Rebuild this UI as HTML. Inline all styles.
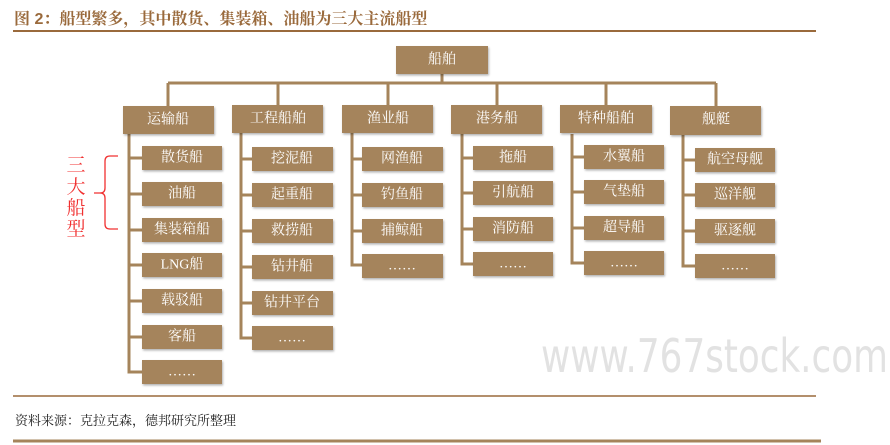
<!DOCTYPE html>
<html><head><meta charset="utf-8"><style>
html,body{margin:0;padding:0;background:#fff;}
svg{display:block;}
.b{fill:#a5845b;filter:url(#sh);}
.t{fill:#fff;font-family:"Liberation Serif","Noto Serif CJK SC","Noto Sans CJK SC",serif;font-size:14px;text-anchor:middle;dominant-baseline:central;}
.l{stroke:#a5845b;stroke-width:3;fill:none;}
</style></head><body>
<svg width="890" height="445" viewBox="0 0 890 445" xmlns="http://www.w3.org/2000/svg">
<defs><filter id="sh" x="-10%" y="-10%" width="130%" height="140%"><feDropShadow dx="1" dy="1.5" stdDeviation="1" flood-color="#000" flood-opacity="0.3"/></filter></defs>
<text x="14" y="24" font-family="'Liberation Sans','Noto Serif CJK SC',sans-serif" font-size="16" font-weight="bold" fill="#9a6a3c">图 2：船型繁多，其中散货、集装箱、油船为三大主流船型</text>
<line x1="13" y1="31" x2="816" y2="31" stroke="#9a6a3c" stroke-width="2"/>
<text x="541" y="372" font-family="'DejaVu Sans',sans-serif" font-size="46" fill="#e2e2e2" textLength="347" lengthAdjust="spacingAndGlyphs">www.767stock.com</text>
<path class="l" d="M442 74V83M168 83H716M168 83V106M278 83V105M388 83V105M497 83V105M606 83V105M716 83V106"/>
<path class="l" d="M129 134V372H142M129 158H142M129 194H142M129 230H142M129 265H142M129 301H142M129 337H142"/>
<path class="l" d="M241 133V338H252M241 159H252M241 195H252M241 231H252M241 267H252M241 303H252"/>
<path class="l" d="M352 133V265H362M352 159H362M352 195H362M352 231H362"/>
<path class="l" d="M462 134V264H473M462 158H473M462 193H473M462 229H473"/>
<path class="l" d="M572 134V263H584M572 157H584M572 192H584M572 228H584"/>
<path class="l" d="M683 135V266H695M683 160H695M683 195H695M683 231H695"/>
<rect class="b" x="396" y="46" width="92" height="28"/><text class="t" x="442" y="60">船舶</text>
<rect class="b" x="123" y="106" width="91" height="28"/><text class="t" x="168" y="120">运输船</text>
<rect class="b" x="232" y="105" width="91" height="28"/><text class="t" x="278" y="119">工程船舶</text>
<rect class="b" x="342" y="105" width="91" height="28"/><text class="t" x="388" y="119">渔业船</text>
<rect class="b" x="451" y="105" width="91" height="29"/><text class="t" x="497" y="119">港务船</text>
<rect class="b" x="560" y="105" width="92" height="28"/><text class="t" x="606" y="119">特种船舶</text>
<rect class="b" x="670" y="106" width="91" height="29"/><text class="t" x="716" y="120">舰艇</text>
<g>
<rect class="b" x="142" y="146" width="80" height="24"/><text class="t" x="182" y="158">散货船</text>
<rect class="b" x="142" y="182" width="80" height="24"/><text class="t" x="182" y="194">油船</text>
<rect class="b" x="142" y="218" width="80" height="24"/><text class="t" x="182" y="230">集装箱船</text>
<rect class="b" x="142" y="253" width="80" height="24"/><text class="t" x="182" y="265" font-family="Liberation Sans,'Noto Serif CJK SC',sans-serif">LNG船</text>
<rect class="b" x="142" y="289" width="80" height="24"/><text class="t" x="182" y="301">载驳船</text>
<rect class="b" x="142" y="325" width="80" height="24"/><text class="t" x="182" y="337">客船</text>
<rect class="b" x="142" y="360" width="80" height="24"/><text class="t" x="182" y="372">……</text>
</g>
<g>
<rect class="b" x="252" y="147" width="81" height="24"/><text class="t" x="292" y="159">挖泥船</text>
<rect class="b" x="252" y="183" width="81" height="24"/><text class="t" x="292" y="195">起重船</text>
<rect class="b" x="252" y="219" width="81" height="24"/><text class="t" x="292" y="231">救捞船</text>
<rect class="b" x="252" y="255" width="81" height="24"/><text class="t" x="292" y="267">钻井船</text>
<rect class="b" x="252" y="291" width="81" height="24"/><text class="t" x="292" y="303">钻井平台</text>
<rect class="b" x="252" y="326" width="81" height="24"/><text class="t" x="292" y="338">……</text>
</g>
<g>
<rect class="b" x="362" y="147" width="81" height="24"/><text class="t" x="402" y="159">网渔船</text>
<rect class="b" x="362" y="183" width="81" height="24"/><text class="t" x="402" y="195">钓鱼船</text>
<rect class="b" x="362" y="219" width="81" height="24"/><text class="t" x="402" y="231">捕鲸船</text>
<rect class="b" x="362" y="254" width="81" height="24"/><text class="t" x="402" y="266">……</text>
</g>
<g>
<rect class="b" x="473" y="146" width="80" height="24"/><text class="t" x="513" y="158">拖船</text>
<rect class="b" x="473" y="181" width="80" height="24"/><text class="t" x="513" y="193">引航船</text>
<rect class="b" x="473" y="217" width="80" height="24"/><text class="t" x="513" y="229">消防船</text>
<rect class="b" x="473" y="252" width="80" height="24"/><text class="t" x="513" y="264">……</text>
</g>
<g>
<rect class="b" x="584" y="145" width="80" height="24"/><text class="t" x="624" y="157">水翼船</text>
<rect class="b" x="584" y="180" width="80" height="24"/><text class="t" x="624" y="192">气垫船</text>
<rect class="b" x="584" y="216" width="80" height="24"/><text class="t" x="624" y="228">超导船</text>
<rect class="b" x="584" y="251" width="80" height="24"/><text class="t" x="624" y="263">……</text>
</g>
<g>
<rect class="b" x="695" y="148" width="80" height="24"/><text class="t" x="735" y="160">航空母舰</text>
<rect class="b" x="695" y="183" width="80" height="24"/><text class="t" x="735" y="195">巡洋舰</text>
<rect class="b" x="695" y="219" width="80" height="24"/><text class="t" x="735" y="231">驱逐舰</text>
<rect class="b" x="695" y="254" width="80" height="24"/><text class="t" x="735" y="266">……</text>
</g>
<path d="M118 156H110Q105 156 105 161V188Q105 193 100 193H94M100 193Q105 193 105 198V224Q105 229 110 229H118" stroke="#f03030" stroke-width="1.3" fill="none"/>
<g font-family="'Noto Serif CJK SC','Noto Sans CJK SC',serif" font-size="19" fill="#f03030" text-anchor="middle">
<text x="76" y="171">三</text><text x="76" y="193">大</text><text x="76" y="214">船</text><text x="76" y="235">型</text>
</g>
<line x1="13" y1="396" x2="816" y2="396" stroke="#9a6a3c" stroke-width="1.5"/>
<text x="15" y="425" font-family="'Liberation Serif','Noto Serif CJK SC',serif" font-size="13" fill="#222">资料来源：克拉克森，德邦研究所整理</text>
<line x1="13" y1="441" x2="821" y2="441" stroke="#a5845b" stroke-width="3"/>
</svg>
</body></html>
